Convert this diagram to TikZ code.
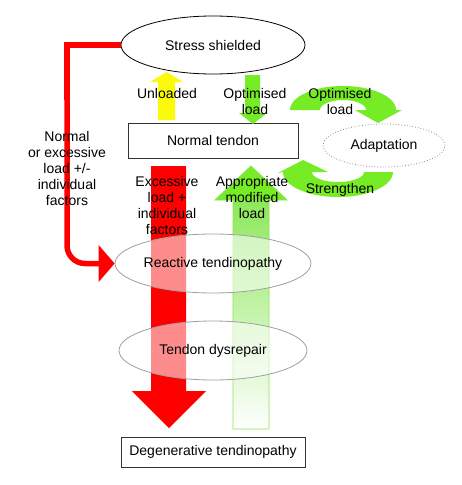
\documentclass[tikz,border=0pt]{standalone}
\usepackage{fontspec}
\setmainfont{Liberation Sans}
\usetikzlibrary{arrows.meta,shapes.geometric}
\definecolor{mygreen}{RGB}{118,236,38}
\definecolor{greenlight}{RGB}{140,232,90}
\definecolor{greenedge}{RGB}{140,228,80}
\definecolor{myyellow}{RGB}{250,250,10}
\begin{document}
\begin{tikzpicture}[x=1pt,y=-1pt,
  txt/.style={font=\fontsize{14}{16}\selectfont, align=center, inner sep=0pt},
  ellnode/.style={ellipse, draw=gray!75, line width=0.8pt, inner sep=0pt, font=\fontsize{14}{16}\selectfont},
  boxnode/.style={rectangle, draw=black!80, line width=0.9pt, inner sep=0pt, font=\fontsize{14}{16}\selectfont},
  overlay/.style={fill=white, fill opacity=0.55, text opacity=1}
]
\fill[white] (0,0) rectangle (462,485);
\useasboundingbox (0,0) rectangle (462,485);

% big red arrow (down)
\fill[red] (151,166) -- (186,166) -- (186,391) -- (206,391) -- (169,428) -- (132,391) -- (151,391) -- cycle;

% big green arrow (up)
\shade[top color=greenlight, bottom color=white] (233,200) rectangle (269,429);
\fill[mygreen] (269,200) -- (287,200) -- (251,166) -- (215,200) -- (233,200) -- cycle;
\draw[greenedge, line width=0.9pt] (233,429) -- (233,200) -- (215,200) -- (251,166) -- (287,200) -- (269,200) -- (269,429) -- cycle;

% nodes
\node[ellnode, draw=black, fill=white, minimum width=184pt, minimum height=58pt] (ss) at (213,45) {Stress shielded};
\node[ellnode, overlay, minimum width=188pt, minimum height=59pt] (rt) at (213,263.5) {Reactive tendinopathy};
\node[ellnode, overlay, minimum width=188pt, minimum height=59pt] (td) at (213,350.5) {Tendon dysrepair};
\node[boxnode, fill=white, minimum width=170pt, minimum height=35pt] (nt) at (213,140.5) {Normal tendon};
\node[ellnode, dotted, draw=gray!90, minimum width=122pt, minimum height=43pt] (ad) at (384,145.5) {Adaptation};
\node[boxnode, minimum width=184pt, minimum height=30pt] (dt) at (213,452) {Degenerative tendinopathy};

% red connector
\coordinate (lt) at (67,45);
\draw[red, line width=5.5pt] (ss.west) -- (lt) -- (67,100);
\draw[red, line width=5.5pt, rounded corners=18pt, -{Triangle[length=16pt,width=36pt]}] (lt) -- (lt |- rt.west) -- (rt.west);

% yellow arrow (unloaded)
\fill[myyellow] (158,120) -- (158,82) -- (150,82) -- (166.5,72) -- (183,82) -- (175,82) -- (175,120) -- cycle;
% green down arrow (optimised load)
\fill[mygreen] (245,75) -- (260,75) -- (260,113) -- (267,113) -- (253,124) -- (239,113) -- (245,113) -- cycle;

% curved arrow towards adaptation
\fill[mygreen] plot[domain=180:0, samples=40] ({343+53*cos(\x)},{110-24*sin(\x)})
  -- (402,110) -- (378,123) -- (355,110) -- (366,110)
  -- plot[domain=0:180, samples=40] ({343+23*cos(\x)},{110-10*sin(\x)}) -- cycle;
% curved arrow back (strengthen)
\fill[mygreen] plot[domain=0:180, samples=40] ({338+55*cos(\x)},{172+25*sin(\x)})
  -- (278,173) -- (303,160) -- (328,172) -- (312,172)
  -- plot[domain=180:0, samples=40] ({338+26*cos(\x)},{172+10*sin(\x)}) -- cycle;

% labels
\node[txt] (lunl) at (167,93) {Unloaded};
\node[txt] (lopt) at (255,101) {Optimised\\load};
\node[txt] (lopt2) at (340,101) {Optimised\\load};
\node[txt] (lstr) at (340,190) {Strengthen};
\node[txt] (lnorm) at (67,168) {Normal\\or excessive\\load +/-\\individual\\factors};
\node[txt] (lexc) at (167,205) {Excessive\\load +\\individual\\factors};
\node[txt] (lapp) at (252,197) {Appropriate\\modified\\load};
\end{tikzpicture}
\end{document}
